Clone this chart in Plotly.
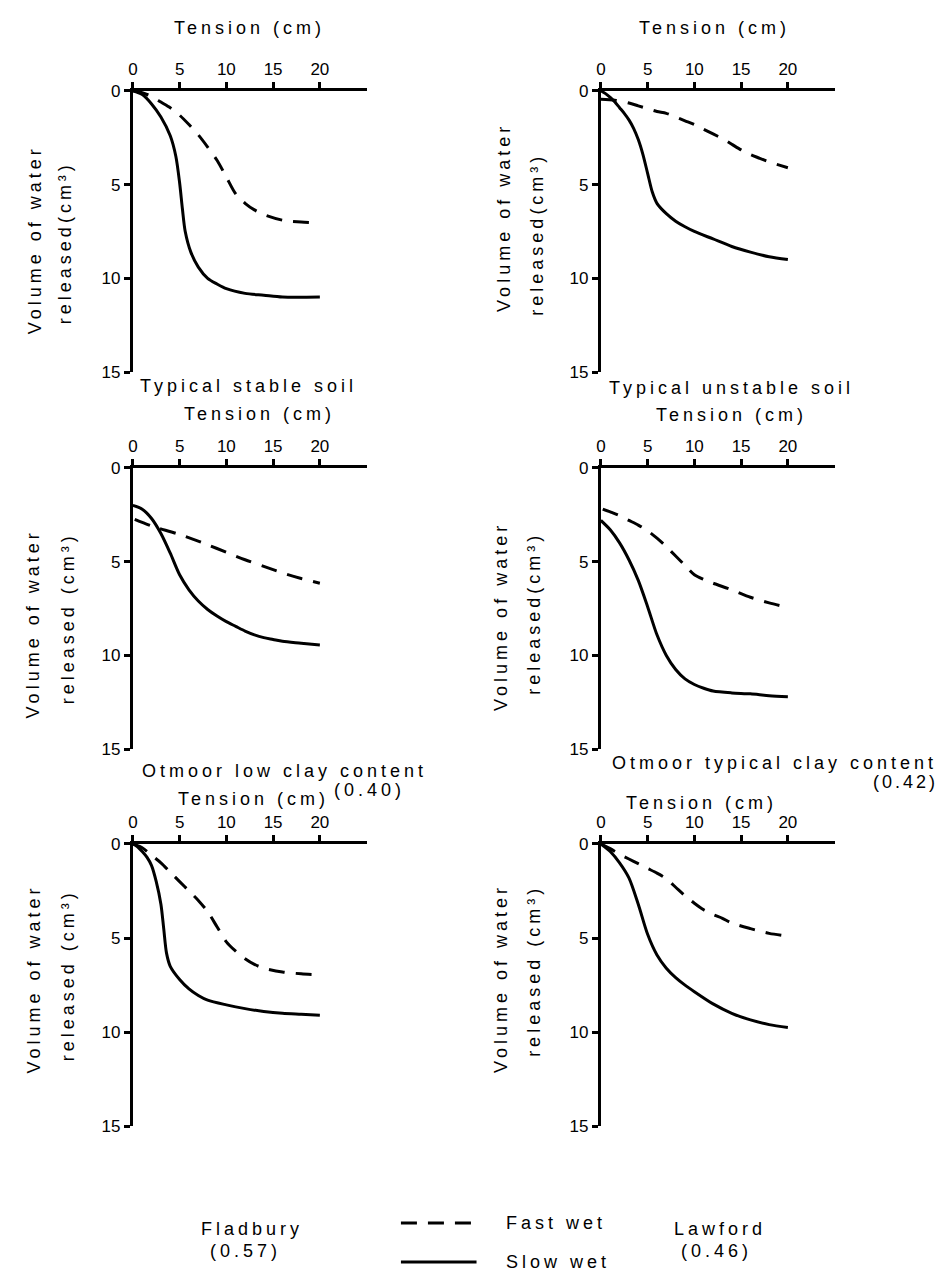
import plotly.graph_objects as go

FONT = "Liberation Sans"
W, H = 944, 1272

# ---------------- data (Tension cm, Volume released cm3) ----------------
TICK_X = [0, 5, 10, 15, 20]
TICK_Y = [0, 5, 10, 15]

stable_fast_x = [0, 1, 2, 3, 4, 5, 6, 7, 8, 9, 10, 11, 12, 13, 14, 16, 18, 20]
stable_fast_y = [0, 0.1, 0.3, 0.6, 0.9, 1.3, 1.8, 2.35, 3.0, 3.7, 4.6, 5.5, 6.0, 6.35, 6.6, 6.9, 7.0, 7.05]
stable_slow_x = [0, 1, 2, 3, 4, 4.6, 5.0, 5.3, 5.6, 6.2, 7, 8, 9, 10, 12, 14, 16, 20]
stable_slow_y = [0, 0.2, 0.7, 1.4, 2.4, 3.5, 4.9, 6.3, 7.5, 8.6, 9.4, 10.0, 10.3, 10.55, 10.8, 10.9, 11.0, 11.0]

unstable_fast_x = [0, 1.5, 3, 4, 5, 6, 7, 8, 9, 10, 11, 12, 13, 14, 15, 16, 17, 18, 19, 20]
unstable_fast_y = [0.45, 0.5, 0.65, 0.8, 0.95, 1.1, 1.2, 1.4, 1.6, 1.8, 2.05, 2.3, 2.55, 2.85, 3.15, 3.4, 3.6, 3.8, 3.95, 4.1]
unstable_slow_x = [0, 0.5, 1, 1.5, 2, 2.5, 3, 3.5, 4, 4.5, 5, 5.5, 6, 7, 8, 9, 10, 12, 14, 16, 18, 20]
unstable_slow_y = [0, 0.15, 0.35, 0.6, 0.9, 1.2, 1.55, 2.0, 2.6, 3.4, 4.4, 5.4, 6.0, 6.55, 6.95, 7.25, 7.5, 7.9, 8.3, 8.6, 8.85, 9.0]

lowclay_fast_x = [0.2, 2, 5, 8, 10, 12, 14, 16, 18, 20]
lowclay_fast_y = [2.75, 3.1, 3.55, 4.1, 4.5, 4.9, 5.25, 5.6, 5.9, 6.15]
lowclay_slow_x = [0, 1, 2, 3, 4, 5, 6, 7, 8, 9, 10, 11, 12, 13, 14, 15, 16, 18, 20]
lowclay_slow_y = [2.0, 2.2, 2.7, 3.5, 4.55, 5.7, 6.5, 7.1, 7.55, 7.9, 8.2, 8.45, 8.7, 8.9, 9.05, 9.15, 9.25, 9.35, 9.45]

typclay_fast_x = [0.2, 1, 2, 3, 4, 5, 6, 7, 8, 9, 10, 11, 12, 14, 16, 18, 20]
typclay_fast_y = [2.2, 2.35, 2.55, 2.8, 3.05, 3.35, 3.75, 4.2, 4.7, 5.2, 5.7, 5.95, 6.15, 6.5, 6.9, 7.2, 7.45]
typclay_slow_x = [0, 1, 2, 3, 4, 5, 6, 7, 8, 9, 10, 11, 12, 14, 16, 18, 20]
typclay_slow_y = [2.8, 3.3, 4.0, 4.9, 6.0, 7.4, 8.9, 10.0, 10.75, 11.25, 11.55, 11.75, 11.9, 12.0, 12.05, 12.15, 12.2]

fladbury_fast_x = [0, 1, 2, 3, 4, 5, 6, 7, 8, 9, 10, 11, 12, 13, 14, 16, 18, 20]
fladbury_fast_y = [0, 0.2, 0.6, 1.0, 1.5, 2.0, 2.5, 3.0, 3.6, 4.4, 5.2, 5.7, 6.1, 6.4, 6.6, 6.8, 6.9, 6.95]
fladbury_slow_x = [0, 0.5, 1, 1.5, 2, 2.5, 3, 3.3, 3.6, 4, 5, 6, 7, 8, 10, 12, 14, 16, 18, 20]
fladbury_slow_y = [0, 0.15, 0.4, 0.7, 1.15, 2.0, 3.2, 4.5, 5.8, 6.5, 7.2, 7.7, 8.05, 8.3, 8.55, 8.75, 8.9, 9.0, 9.05, 9.1]

lawford_fast_x = [0, 1, 2, 3, 4, 5, 6, 7, 8, 9, 10, 11, 12, 13, 14, 16, 18, 20]
lawford_fast_y = [0, 0.25, 0.55, 0.8, 1.05, 1.3, 1.55, 1.85, 2.3, 2.75, 3.15, 3.5, 3.75, 3.95, 4.2, 4.5, 4.75, 4.9]
lawford_slow_x = [0, 1, 2, 3, 4, 5, 6, 7, 8, 9, 10, 12, 14, 16, 18, 20]
lawford_slow_y = [0, 0.4, 1.0, 1.8, 3.2, 4.8, 5.9, 6.6, 7.1, 7.5, 7.85, 8.5, 9.0, 9.35, 9.6, 9.75]

SERIES_NAMES = ["Fast wet", "Slow wet"]

panels = [
    (stable_fast_x, stable_fast_y, stable_slow_x, stable_slow_y),
    (unstable_fast_x, unstable_fast_y, unstable_slow_x, unstable_slow_y),
    (lowclay_fast_x, lowclay_fast_y, lowclay_slow_x, lowclay_slow_y),
    (typclay_fast_x, typclay_fast_y, typclay_slow_x, typclay_slow_y),
    (fladbury_fast_x, fladbury_fast_y, fladbury_slow_x, fladbury_slow_y),
    (lawford_fast_x, lawford_fast_y, lawford_slow_x, lawford_slow_y),
]

# ---------------- layout geometry (target pixels) ----------------
# compensation for the page offset seen in rendering
DX, DY0, SY = 10.0, 14.0, 0.9875


def PX(x):
    return (x - DX) / W


def PY(y):
    return 1 - ((y - DY0) / SY) / H


col_px = [(130.5, 365.5), (601, 836)]
row_px = [(88, 370), (466, 748), (843, 1126)]

DASH = "16px,11px"


def sp(t, ls=4):
    return f'<span style="letter-spacing:{ls}px">{t}</span>'


fig = go.Figure()
layout_axes = {}
for i, (fx, fy, sx, sy) in enumerate(panels):
    r, c = divmod(i, 2)
    n = i + 1
    xa = "x" if n == 1 else f"x{n}"
    ya = "y" if n == 1 else f"y{n}"
    fig.add_trace(go.Scatter(x=fx, y=fy, mode="lines", name=SERIES_NAMES[0],
                             line=dict(color="black", width=3, dash=DASH, shape="spline", smoothing=0.8),
                             xaxis=xa, yaxis=ya, showlegend=False))
    fig.add_trace(go.Scatter(x=sx, y=sy, mode="lines", name=SERIES_NAMES[1],
                             line=dict(color="black", width=3, shape="spline", smoothing=0.8),
                             xaxis=xa, yaxis=ya, showlegend=False))
    x0, x1 = col_px[c]
    y0, y1 = row_px[r]
    common = dict(showgrid=False, zeroline=False, showline=True, linecolor="black", linewidth=3,
                  ticks="outside", ticklen=6, tickwidth=2.5, tickcolor="black",
                  tickfont=dict(family=FONT, size=17, color="black"), fixedrange=True)
    layout_axes["xaxis" if n == 1 else f"xaxis{n}"] = dict(
        common, domain=[PX(x0), PX(x1)], range=[0, 25], side="top",
        anchor=ya, tickvals=TICK_X, ticktext=[str(t) for t in TICK_X])
    layout_axes["yaxis" if n == 1 else f"yaxis{n}"] = dict(
        common, domain=[PY(y1), PY(y0)], range=[15, 0],
        anchor=xa, tickvals=TICK_Y, ticktext=[str(t) for t in TICK_Y])

fig.update_layout(**layout_axes)


def ann(text, px, py, size=18, angle=0, xanchor="center", ls=4):
    return dict(text=sp(text, ls), x=PX(px), y=PY(py), xref="paper", yref="paper",
                showarrow=False, textangle=angle, xanchor=xanchor, yanchor="middle",
                font=dict(family=FONT, size=size, color="black"))


annotations = [
    ann("Tension (cm)", 248, 25),
    ann("Tension (cm)", 715, 25),
    ann("Typical stable soil", 247, 384),
    ann("Typical unstable soil", 732, 386),
    ann("Tension (cm)", 258, 412),
    ann("Tension (cm)", 732, 413),
    ann("Otmoor low clay content", 138, 770, xanchor="left"),
    ann("(0.40)", 368, 789),
    ann("Otmoor typical clay content", 610, 762, xanchor="left", ls=4),
    ann("(0.42)", 942, 781, xanchor="right", ls=3),
    ann("Tension (cm)", 252, 798),
    ann("Tension (cm)", 702, 802),
    ann("Fladbury", 250, 1229),
    ann("(0.57)", 244, 1251),
    ann("Lawford", 721, 1229),
    ann("(0.46)", 717, 1251),
    # y-axis titles
    ann("Volume of water", 33, 237, angle=-90),
    ann("released(cm³)", 63, 240, angle=-90),
    ann("Volume of water", 503, 215, angle=-90),
    ann("released(cm³)", 537, 232, angle=-90),
    ann("Volume of water", 31, 622, angle=-90),
    ann("released (cm³)", 65, 617, angle=-90),
    ann("Volume of water", 500, 615, angle=-90),
    ann("released(cm³)", 533, 612, angle=-90),
    ann("Volume of water", 31, 978, angle=-90),
    ann("released (cm³)", 65, 975, angle=-90),
    ann("Volume of water", 500, 978, angle=-90),
    ann("released (cm³)", 533, 970, angle=-90),
    # legend texts
    ann(SERIES_NAMES[0], 504, 1223, xanchor="left"),
    ann(SERIES_NAMES[1], 504, 1262, xanchor="left"),
]

# legend key lines
shapes = [
    dict(type="line", xref="paper", yref="paper", x0=PX(400), x1=PX(476), y0=PY(1223), y1=PY(1223),
         line=dict(color="black", width=3, dash=DASH)),
    dict(type="line", xref="paper", yref="paper", x0=PX(400), x1=PX(476), y0=PY(1262), y1=PY(1262),
         line=dict(color="black", width=3)),
]

fig.update_layout(
    width=W, height=H, margin=dict(l=0, r=0, t=0, b=0),
    paper_bgcolor="white", plot_bgcolor="white", showlegend=False,
    annotations=annotations, shapes=shapes,
    font=dict(family=FONT, color="black"),
)

fig.write_html("out.html")
